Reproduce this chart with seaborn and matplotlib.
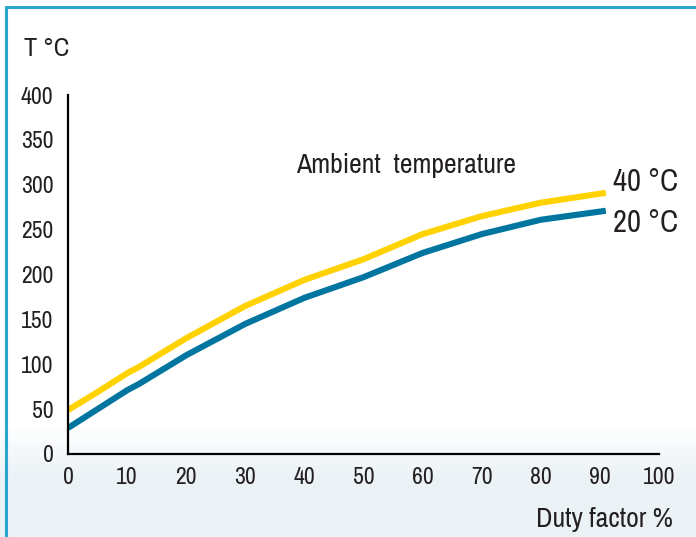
import numpy as np
import pandas as pd
import seaborn as sns
import matplotlib
matplotlib.use("Agg")
import matplotlib.pyplot as plt
from matplotlib.lines import Line2D

# ---- data ----
duty_40 = [0, 5, 10, 12, 20, 30, 40, 50, 60, 70, 80, 91]
temp_40 = [49, 69, 90, 97, 129, 165, 194, 217, 245, 265, 280, 291]
duty_20 = [0, 5, 10, 12, 20, 30, 40, 50, 60, 70, 80, 91]
temp_20 = [29, 50, 71, 78, 110, 145, 174, 197, 224, 245, 261, 271]
x_ticks = [0, 10, 20, 30, 40, 50, 60, 70, 80, 90, 100]
y_ticks = [0, 50, 100, 150, 200, 250, 300, 350, 400]
series_labels = ["40 °C", "20 °C"]

df = pd.concat([
    pd.DataFrame({"duty": duty_40, "temp": temp_40, "amb": series_labels[0]}),
    pd.DataFrame({"duty": duty_20, "temp": temp_20, "amb": series_labels[1]}),
])

sns.set_theme(style="white")
plt.rcParams['font.family'] = ['Archivo Narrow', 'Barlow Semi Condensed', 'DejaVu Sans']

TXT = "#231f20"
W, H = 696, 537
fig = plt.figure(figsize=(W / 100, H / 100), dpi=100)

# subtle background tint at bottom
bg = fig.add_axes([0, 0, 1, 1], zorder=-10)
yy = np.arange(H)
t = np.clip((yy - 425) / 50.0, 0, 1)
base = np.array([1.0, 1.0, 1.0])
tint = np.array([0.925, 0.95, 0.968])
img = (base[None, :] * (1 - t[:, None]) + tint[None, :] * t[:, None])[:, None, :]
bg.imshow(img, aspect="auto", extent=[0, 1, 0, 1], origin="upper")
bg.set_xlim(0, 1)
bg.set_ylim(0, 1)
bg.axis("off")

# frame lines (top and left)
frame_col = "#2aa6cf"
fig.add_artist(Line2D([6 / W, 1], [1 - 7 / H, 1 - 7 / H], color=frame_col, lw=2.2, transform=fig.transFigure))
fig.add_artist(Line2D([6 / W, 6 / W], [0, 1 - 7 / H], color=frame_col, lw=2.2, transform=fig.transFigure))

ax = fig.add_axes([68 / W, 1 - 454 / H, (659 - 68) / W, (454 - 95) / H])
ax.patch.set_alpha(0)

palette = {series_labels[0]: "#ffd200", series_labels[1]: "#00759f"}
sns.lineplot(data=df, x="duty", y="temp", hue="amb", palette=palette, lw=4.4,
             ax=ax, legend=False, solid_capstyle="butt")

ax.set_xlim(0, 100)
ax.set_ylim(0, 400)
ax.set_xticks(x_ticks)
ax.set_yticks(y_ticks)
ax.tick_params(axis="both", direction="out", length=4.5, width=1.5, color="black",
               labelsize=17, labelcolor=TXT)
ax.tick_params(axis="y", pad=6)
ax.tick_params(axis="x", pad=5)
for s in ["top", "right"]:
    ax.spines[s].set_visible(False)
for s in ["left", "bottom"]:
    ax.spines[s].set_color("black")
    ax.spines[s].set_linewidth(1.6)
ax.set_xlabel("")
ax.set_ylabel("")
ax.margins(0)

# end labels
ax.text(92.3, temp_40[-1] + 12, series_labels[0], fontsize=22, color=TXT,
        va="center", ha="left", clip_on=False)
ax.text(92.3, temp_20[-1] - 14, series_labels[1], fontsize=22, color=TXT,
        va="center", ha="left", clip_on=False)
ax.text(38.6, 322, "Ambient  temperature", fontsize=20, color=TXT, va="center", ha="left")

fig.text(24 / W, 1 - 48 / H, "T °C", fontsize=19, color=TXT, va="center", ha="left")
fig.text(673 / W, 1 - 520 / H, "Duty factor %", fontsize=20, color=TXT, va="center", ha="right")

fig.savefig("out.png", dpi=100)
